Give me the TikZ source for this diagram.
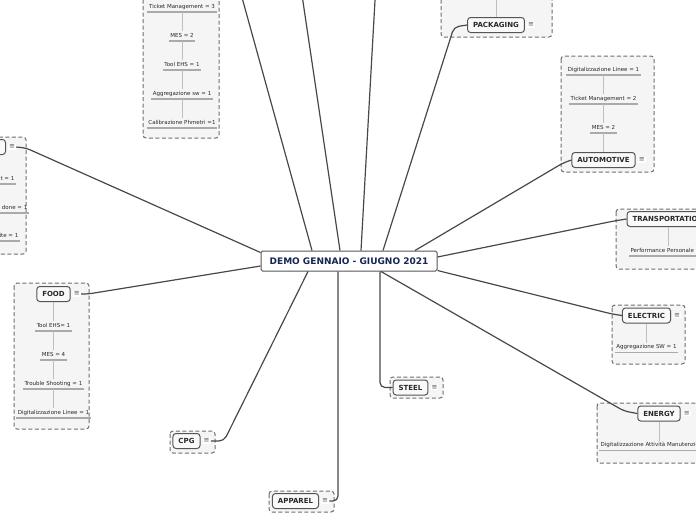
\documentclass[tikz,border=0pt]{standalone}
\usepackage{fontspec}
\setmainfont{DejaVu Sans}
\usetikzlibrary{positioning}
\definecolor{linkgray}{RGB}{72,72,72}
\definecolor{framegray}{RGB}{110,110,110}
\definecolor{framefill}{RGB}{245,245,245}
\definecolor{stemgray}{RGB}{190,190,190}
\definecolor{leafgray}{RGB}{170,170,170}
\definecolor{textgray}{RGB}{40,40,40}
\definecolor{catborder}{RGB}{85,85,85}
\definecolor{demonavy}{RGB}{22,38,82}
\definecolor{menugray}{RGB}{85,85,85}
\tikzset{
  demobox/.style={rectangle, rounded corners=1.5pt, draw=catborder, fill=white,
    line width=1pt, minimum width=176pt, minimum height=20pt,
    font=\fontsize{9}{10}\selectfont\bfseries, text=demonavy},
  catbox/.style={rectangle, rounded corners=3pt, draw=catborder,
    fill=framefill!60!white, line width=1pt, minimum height=15pt,
    inner xsep=5.5pt, font=\fontsize{7}{8}\selectfont\bfseries, text=textgray},
  menu/.style={rectangle, fill=white, inner sep=1pt, text=menugray,
    font=\fontsize{7}{7}\selectfont},
  leaf/.style={rectangle, inner xsep=1.5pt, inner ysep=2.2pt, text height=4pt,
    text depth=1.2pt, font=\fontsize{5.5}{6}\selectfont, text=textgray,
    append after command={(\tikzlastnode.south west) edge[underline]
      (\tikzlastnode.south east)}},
  underline/.style={draw=leafgray, line width=1.2pt},
  stem/.style={draw=stemgray, line width=1pt},
  cluster/.style={draw=framegray, fill=framefill, dash pattern=on 4pt off 2.5pt,
    line width=1pt, rounded corners=3pt},
  conn/.style={draw=linkgray, line width=1.2pt, rounded corners=5pt},
}

\begin{document}
\begin{tikzpicture}[x=1pt, y=-1pt, node distance=19pt]
  \useasboundingbox (0,0) rectangle (696,520);
  \clip (0,0) rectangle (696,520);

  % dashed group frames
  \path[cluster] (143,-10) rectangle (219,138);
  \path[cluster] (-10,137) rectangle (26,254);
  \path[cluster] (14,283) rectangle (89,429);
  \path[cluster] (441,-10) rectangle (552,37);
  \path[cluster] (561,56) rectangle (654,172);
  \path[cluster] (616,209) rectangle (710,269);
  \path[cluster] (612,305) rectangle (685,364);
  \path[cluster] (597,403) rectangle (710,463);
  \path[cluster] (390,377) rectangle (443,398);
  \path[cluster] (170,431) rectangle (215,453);
  \path[cluster] (269,491) rectangle (334,512);

  \node[demobox] (demo) at (349,261) {DEMO GENNAIO - GIUGNO 2021};

  % top left group
  \node[leaf] (tl1) at (182,7) {Ticket Management = 3};
  \node[leaf, below=of tl1] (tl2) {MES = 2};
  \node[leaf, below=of tl2] (tl3) {Tool EHS = 1};
  \node[leaf, below=of tl3] (tl4) {Aggregazione sw = 1};
  \node[leaf, below=of tl4] (tl5) {Calibrazione Phmetri =1};

  % left group
  \node[catbox, anchor=east, minimum width=40pt] (left) at (6,147) {};
  \node[menu, right=2pt of left] (leftm) {≡};
  \node[leaf, anchor=east] (left1) at (16,179) {t = 1};
  \node[leaf, anchor=east] (left2) at (29,208) {done = 1};
  \node[leaf, anchor=east] (left3) at (20,236) {ite = 1};

  % food
  \node[catbox] (food) at (53.5,294) {FOOD};
  \node[menu, right=2pt of food] (foodm) {≡};
  \node[leaf, below=of food] (food1) {Tool EHS= 1};
  \node[leaf, below=of food1] (food2) {MES = 4};
  \node[leaf, below=of food2] (food3) {Trouble Shooting = 1};
  \node[leaf, below=of food3] (food4) {Digitalizzazione Linee = 1};

  % packaging
  \node[catbox] (pack) at (496,25) {PACKAGING};
  \node[menu, right=2pt of pack] (packm) {≡};
  \coordinate (packup) at (496,-5);

  % automotive
  \node[catbox] (auto) at (603.5,160) {AUTOMOTIVE};
  \node[menu, right=2pt of auto] (autom) {≡};
  \node[leaf, above=of auto] (auto3) {MES = 2};
  \node[leaf, above=of auto3] (auto2) {Ticket Management = 2};
  \node[leaf, above=of auto2] (auto1) {Digitalizzazione Linee = 1};

  % transportation
  \node[catbox] (trans) at (668,219) {TRANSPORTATION};
  \node[leaf, below=of trans] (trans1) {Performance Personale = 1};

  % electric
  \node[catbox] (elec) at (646.5,315.5) {ELECTRIC};
  \node[menu, right=2pt of elec] (elecm) {≡};
  \node[leaf, below=of elec] (elec1) {Aggregazione SW = 1};

  % energy
  \node[catbox] (energy) at (659,413.5) {ENERGY};
  \node[menu, right=2pt of energy] (energym) {≡};
  \node[leaf, below=of energy] (energy1) {Digitalizzazione Attività Manutenzione = 1};

  % single nodes
  \node[catbox] (steel) at (410.5,387.5) {STEEL};
  \node[menu, right=2pt of steel] (steelm) {≡};
  \node[catbox] (cpg) at (186.5,441) {CPG};
  \node[menu, right=2pt of cpg] (cpgm) {≡};
  \node[catbox] (apparel) at (295.5,501) {APPAREL};
  \node[menu, right=2pt of apparel] (apparelm) {≡};

  % stems inside groups
  \foreach \a/\b in {tl1/tl2, tl2/tl3, tl3/tl4, tl4/tl5, food/food1,
      food1/food2, food2/food3, food3/food4, auto1/auto2, auto2/auto3,
      auto3/auto, trans/trans1, elec/elec1, energy/energy1}
    \draw[stem] (\a.south) -- (\b.north);
  \draw[stem] (pack.north) -- (packup);

  % links from the centre
  \coordinate (up1) at (241.3,-5);
  \coordinate (up2) at (302,-5);
  \coordinate (up3) at (375.3,-5);
  \draw[conn] ([xshift=-37pt]demo.north) -- (up1);
  \draw[conn] ([xshift=-9pt]demo.north) -- (up2);
  \draw[conn] ([xshift=12pt]demo.north) -- (up3);
  \draw[conn] ([xshift=34pt]demo.north) -- (454,27) -- (pack.west);
  \draw[conn] ([xshift=66pt]demo.north) -- (563,163) -- (auto.west);
  \draw[conn] ([yshift=4pt]demo.east) -- (614,221) -- (trans.west);
  \draw[conn] ([yshift=1pt]demo.south east) -- (612,314) -- (elec.west);
  \draw[conn] ([xshift=32pt]demo.south) -- (624,411) -- (energy.west);
  \draw[conn] ([xshift=31pt]demo.south) -- (380,387.5) -- (steel.west);
  \draw[conn] ([xshift=-11pt]demo.south) -- (338,501) -- (apparelm.east);
  \draw[conn] ([xshift=-41pt]demo.south) -- (224,441) -- (cpgm.east);
  \draw[conn] ([yshift=-5pt]demo.west) -- (88,294) -- (foodm.east);
  \draw[conn] ([yshift=-2pt]demo.north west) -- (26,148) -- (leftm.east);
\end{tikzpicture}
\end{document}
